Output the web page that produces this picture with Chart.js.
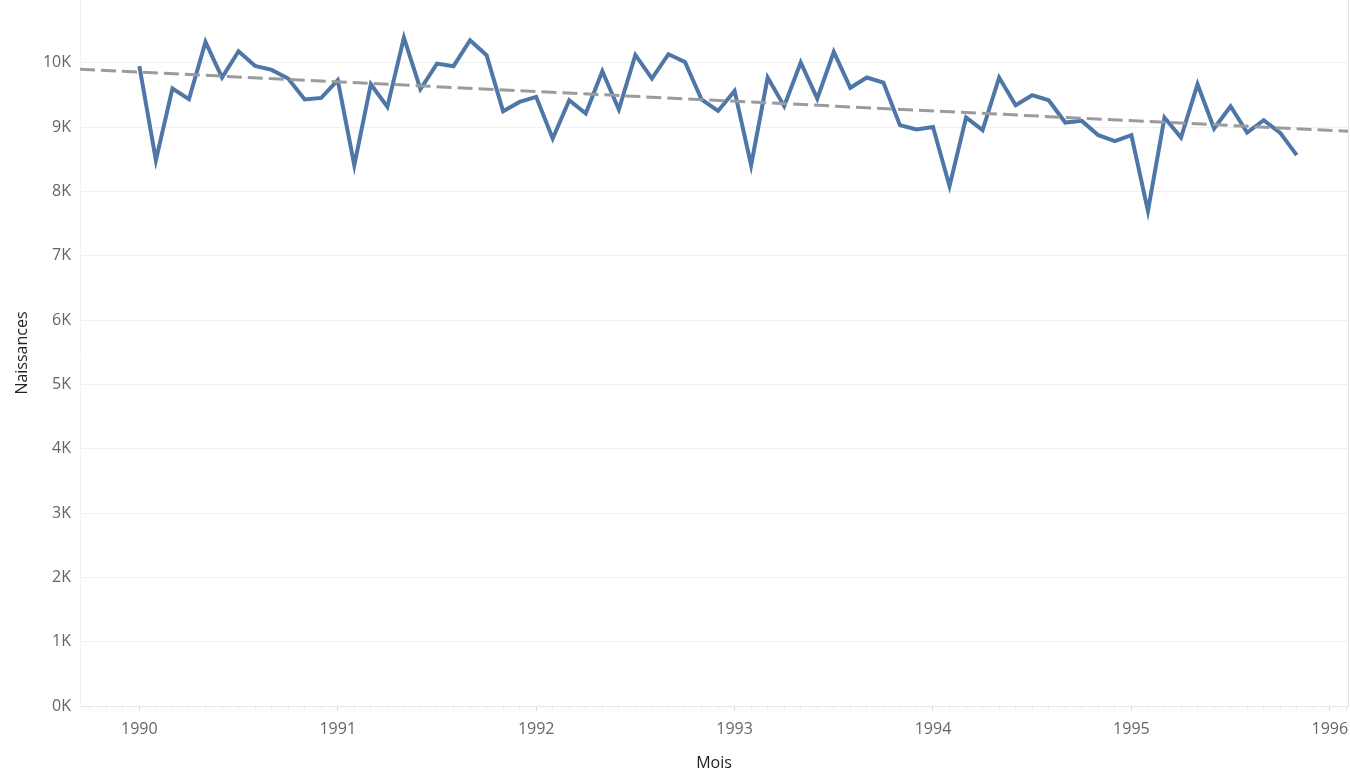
<!DOCTYPE html>
<html lang="fr">
<head>
    <meta charset="UTF-8">
    <title>Naissances par mois</title>
    <script src="https://cdn.jsdelivr.net/npm/chart.js"></script>
    <style>
        html, body { margin: 0; padding: 0; background: #fff; }
        #wrap { width: 1350px; height: 784px; }
    </style>
</head>
<body>
    <div id="wrap"><canvas id="chart"></canvas></div>
    <script>
        // Naissances mensuelles, janvier 1990 -> novembre 1995
        const firstYear = 1990;
        const births = [
            9946, 8485, 9599, 9433, 10324, 9770, 10179, 9951, 9888, 9754, 9428, 9453,
            9728, 8407, 9666, 9313, 10390, 9588, 9987, 9946, 10350, 10117, 9246, 9391,
            9469, 8822, 9417, 9210, 9868, 9273, 10121, 9754, 10132, 10013, 9428, 9251,
            9562, 8407, 9770, 9324, 10003, 9441, 10168, 9611, 9770, 9692, 9029, 8962,
            9002, 8081, 9148, 8951, 9770, 9339, 9495, 9417, 9070, 9096, 8873, 8780,
            8873, 7697, 9148, 8837, 9666, 8977, 9324, 8915, 9106, 8909, 8563
        ];
        // Tendance linéaire : valeurs aux bords de l'axe
        const trendStart = 9899;
        const trendEnd = 8935;
        const xMin = -3.59, xMax = 73.1;   // en mois depuis janvier 1990
        const yMax = 10975;
        const yTicks = [0, 1000, 2000, 3000, 4000, 5000, 6000, 7000, 8000, 9000, 10000];

        const points = births.map((v, i) => ({ x: i, y: v }));
        const trend = [{ x: xMin, y: trendStart }, { x: xMax, y: trendEnd }];

        const font = "'Open Sans', 'DejaVu Sans', sans-serif";

        new Chart(document.getElementById("chart"), {
            type: "line",
            data: {
                datasets: [
                    {
                        label: "Tendance",
                        data: trend,
                        borderColor: "#9b9b9b",
                        borderWidth: 3,
                        borderDash: [15, 6],
                        pointRadius: 0,
                        fill: false
                    },
                    {
                        label: "Naissances",
                        data: points,
                        borderColor: "#4e76a7",
                        borderWidth: 4,
                        pointRadius: 0,
                        tension: 0,
                        fill: false
                    }
                ]
            },
            options: {
                responsive: true,
                maintainAspectRatio: false,
                animation: false,
                layout: { padding: 0 },
                plugins: { legend: { display: false }, tooltip: { enabled: false } },
                scales: {
                    x: {
                        type: "linear",
                        min: xMin,
                        max: xMax,
                        afterFit: s => { s.height = 78; s.paddingLeft = 0; s.paddingRight = 0; },
                        afterBuildTicks: s => {
                            s.ticks = [];
                            for (let m = Math.ceil(xMin); m <= xMax; m++) s.ticks.push({ value: m });
                        },
                        ticks: {
                            autoSkip: false,
                            maxRotation: 0,
                            padding: 9,
                            color: "#666",
                            font: { family: font, size: 16 },
                            callback: v => (v % 12 === 0 ? String(firstYear + v / 12) : "")
                        },
                        grid: {
                            drawOnChartArea: false,
                            drawTicks: true,
                            tickLength: 5,
                            tickColor: c => (c.tick && c.tick.value % 12 === 0 ? "#d6d6d6" : "#ececec")
                        },
                        border: { color: "#e8e8e8", width: 1 },
                        title: {
                            display: true,
                            text: "Mois",
                            color: "#222",
                            font: { family: font, size: 16 },
                            padding: { top: 4, bottom: 11 }
                        }
                    },
                    y: {
                        min: 0,
                        max: yMax,
                        afterFit: s => { s.width = 80; s.paddingTop = 0; s.paddingBottom = 0; },
                        afterBuildTicks: s => { s.ticks = yTicks.map(v => ({ value: v })); },
                        ticks: {
                            padding: 9,
                            color: "#666",
                            font: { family: font, size: 16 },
                            callback: v => (v / 1000) + "K"
                        },
                        grid: { color: "#f0f0f0", drawTicks: false, lineWidth: 1 },
                        border: { color: "#f2f2f2", width: 1 },
                        title: {
                            display: true,
                            text: "Naissances",
                            color: "#222",
                            font: { family: font, size: 16 },
                            padding: { top: 13, bottom: 6 }
                        }
                    },
                    y2: {
                        position: "right",
                        min: 0,
                        max: yMax,
                        afterFit: s => { s.width = 2; s.paddingTop = 0; s.paddingBottom = 0; },
                        ticks: { display: false },
                        grid: { drawOnChartArea: false, drawTicks: false },
                        border: { color: "#e4e4e4", width: 1 }
                    }
                }
            }
        });
    </script>
</body>
</html>
